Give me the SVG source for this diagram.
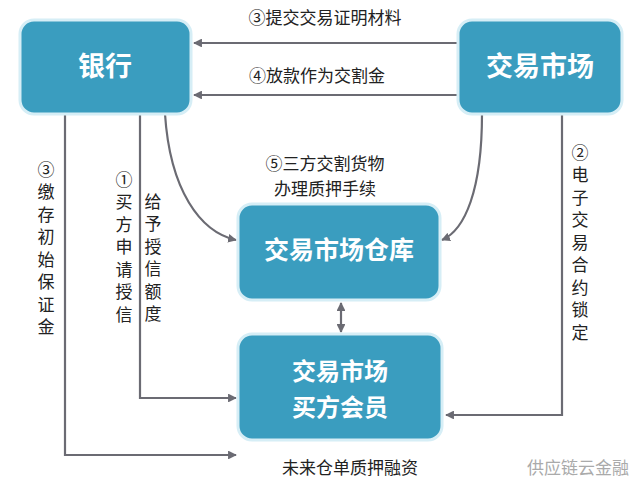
<svg xmlns="http://www.w3.org/2000/svg" width="640" height="497" viewBox="0 0 640 497">
<style>
.box{fill:#3a9dbf;stroke:#d6eef6;stroke-width:3}
.bt{font-family:"Noto Sans CJK SC",sans-serif;font-weight:bold;fill:#fff;text-anchor:middle}
.t{font-family:"Noto Sans CJK SC",sans-serif;font-size:17px;fill:#222;text-anchor:middle}
.v{font-family:"Noto Sans CJK SC",sans-serif;font-size:17px;fill:#222;writing-mode:vertical-rl;letter-spacing:5.5px}
.c{fill:none;stroke:#6b6b73;stroke-width:2.2}
</style>
<defs><marker id="a" viewBox="0 0 10 10" refX="9" refY="5" markerWidth="4" markerHeight="4" orient="auto-start-reverse"><path d="M0,0L10,5L0,10z" fill="#6b6b73"/></marker></defs>
<rect width="640" height="497" fill="#fff"/>
<g id="connectors">
<path class="c" d="M458,43H194" marker-end="url(#a)"/>
<path class="c" d="M458,95H194" marker-end="url(#a)"/>
<path class="c" d="M65,114V455H236" marker-end="url(#a)"/>
<path class="c" d="M140,114V398H236" marker-end="url(#a)"/>
<path class="c" d="M165,114C170,190 200,232 236,240" marker-end="url(#a)"/>
<path class="c" d="M482,114C482,190 465,230 442,240" marker-end="url(#a)"/>
<path class="c" d="M562,114V415H446" marker-end="url(#a)"/>
<path class="c" d="M341,303V332" marker-start="url(#a)" marker-end="url(#a)"/>
</g>
<g id="bank"><rect class="box" x="20" y="20" width="171" height="94" rx="14"/><text class="bt" x="105" y="76" font-size="27">银行</text></g>
<g id="market"><rect class="box" x="458" y="20" width="164" height="94" rx="14"/><text class="bt" x="540" y="76" font-size="27">交易市场</text></g>
<g id="warehouse"><rect class="box" x="238" y="204" width="202" height="96" rx="14"/><text class="bt" x="339" y="259" font-size="25">交易市场仓库</text></g>
<g id="member"><rect class="box" x="238" y="334" width="204" height="106" rx="14"/><text class="bt" x="340" y="380" font-size="24">交易市场</text><text class="bt" x="340" y="416" font-size="24">买方会员</text></g>
<g id="labels">
<text class="t" x="325" y="170">⑤三方交割货物</text>
<text class="t" x="325" y="195">办理质押手续</text>
<text class="t" x="325" y="24">③提交交易证明材料</text>
<text class="t" x="317" y="82">④放款作为交割金</text>
<text class="t" x="350" y="474">未来仓单质押融资</text>
<text class="t" x="578" y="474" style="fill:#aaa">供应链云金融</text>
<text class="v" x="46" y="161">③缴存初始保证金</text>
<text class="v" x="124" y="171">①买方申请授信</text>
<text class="v" x="153" y="193">给予授信额度</text>
<text class="v" x="580" y="144">②电子交易合约锁定</text>
</g>
</svg>
